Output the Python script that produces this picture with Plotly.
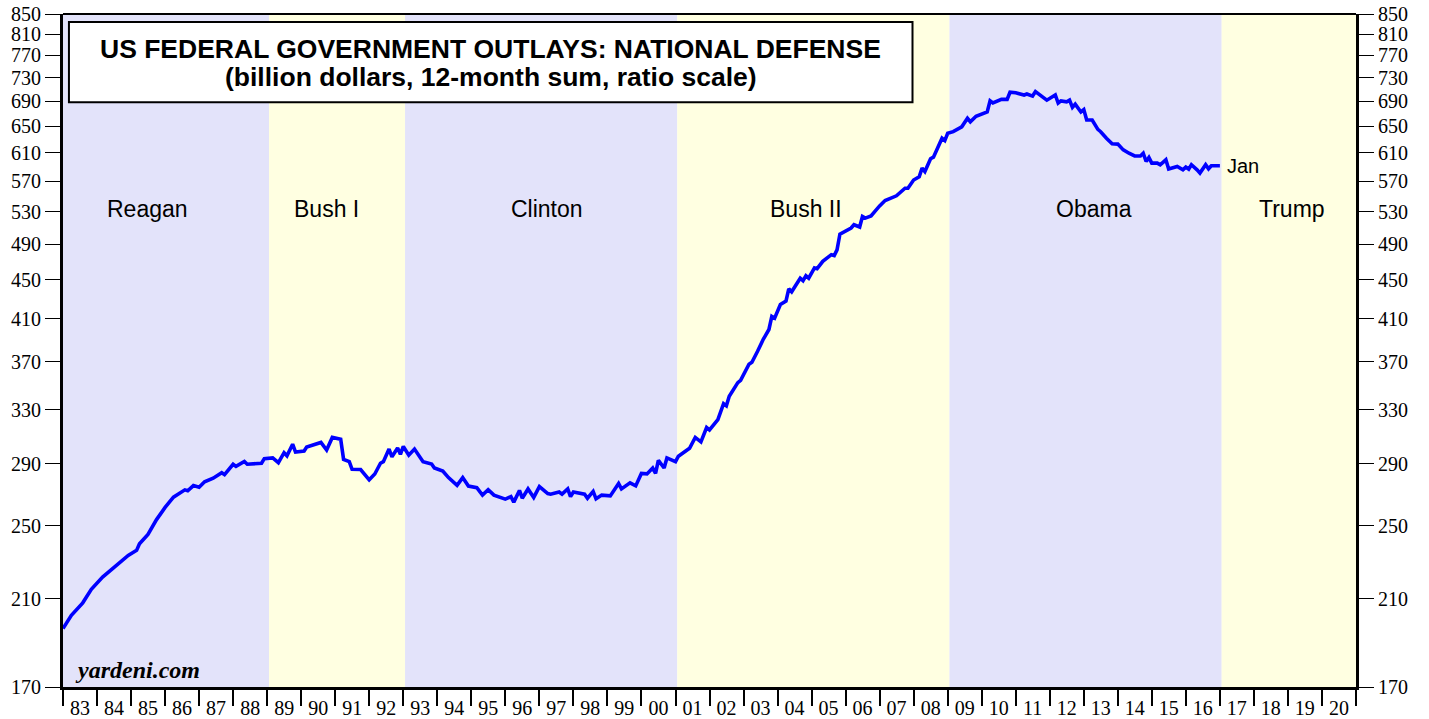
import math
import plotly.graph_objects as go

# ---- data (12-month sum, billion $) ----
dates = [
    "1983-01", "1983-04", "1983-08", "1983-11", "1984-03", "1984-05", "1984-09", "1984-12",
    "1985-03", "1985-04", "1985-07", "1985-10", "1986-01", "1986-04", "1986-08", "1986-09",
    "1986-11", "1987-01", "1987-03", "1987-06", "1987-09", "1987-10", "1988-01", "1988-02",
    "1988-05", "1988-06", "1988-11", "1988-12", "1989-03", "1989-05", "1989-07", "1989-08",
    "1989-10", "1989-11", "1990-02", "1990-03", "1990-08", "1990-10", "1990-12", "1991-03",
    "1991-04", "1991-06", "1991-07", "1991-10", "1992-01", "1992-03", "1992-05", "1992-06",
    "1992-08", "1992-09", "1992-11", "1992-12", "1993-01", "1993-03", "1993-05", "1993-08",
    "1993-11", "1993-12", "1994-03", "1994-05", "1994-08", "1994-10", "1994-12", "1995-03",
    "1995-05", "1995-07", "1995-09", "1996-01", "1996-03", "1996-04", "1996-06", "1996-07",
    "1996-09", "1996-11", "1997-01", "1997-02", "1997-04", "1997-05", "1997-08", "1997-09",
    "1997-11", "1997-12", "1998-01", "1998-05", "1998-06", "1998-08", "1998-09", "1998-11",
    "1999-02", "1999-05", "1999-06", "1999-09", "1999-11", "2000-01", "2000-03", "2000-05",
    "2000-06", "2000-07", "2000-09", "2000-10", "2001-01", "2001-02", "2001-06", "2001-08",
    "2001-10", "2001-12", "2002-01", "2002-04", "2002-06", "2002-07", "2002-08", "2002-11",
    "2002-12", "2003-03", "2003-04", "2003-06", "2003-08", "2003-10", "2003-11", "2003-12",
    "2004-02", "2004-04", "2004-05", "2004-06", "2004-09", "2004-10", "2004-11", "2004-12",
    "2005-02", "2005-03", "2005-05", "2005-08", "2005-09", "2005-10", "2005-11", "2006-03",
    "2006-04", "2006-06", "2006-07", "2006-08", "2006-10", "2007-01", "2007-03", "2007-07",
    "2007-10", "2007-11", "2008-01", "2008-03", "2008-04", "2008-05", "2008-07", "2008-08",
    "2008-09", "2008-11", "2008-12", "2009-01", "2009-03", "2009-05", "2009-06", "2009-08",
    "2009-09", "2009-11", "2010-02", "2010-03", "2010-04", "2010-05", "2010-08", "2010-10",
    "2010-11", "2011-01", "2011-04", "2011-05", "2011-07", "2011-08", "2011-12", "2012-03",
    "2012-04", "2012-05", "2012-07", "2012-08", "2012-09", "2012-10", "2012-12", "2013-01",
    "2013-02", "2013-04", "2013-06", "2013-07", "2013-09", "2013-11", "2014-01", "2014-03",
    "2014-05", "2014-07", "2014-09", "2014-10", "2014-11", "2014-12", "2015-01", "2015-03",
    "2015-04", "2015-06", "2015-07", "2015-09", "2015-10", "2015-12", "2016-01", "2016-02",
    "2016-03", "2016-05", "2016-06", "2016-08", "2016-09", "2016-10", "2017-01",
]
outlays = [
    195.5, 201.8, 207.9, 214.7, 221.1, 223.8, 229.3, 232.9,
    235.7, 239.4, 244.9, 253.7, 261.2, 267.7, 272.4, 271.8,
    275.2, 274.1, 277.7, 280.1, 283.8, 282.5, 289.6, 288.1,
    291.5, 289.6, 290.3, 293.5, 294.0, 290.7, 297.7, 295.5,
    303.8, 298.1, 298.9, 301.8, 305.1, 299.6, 308.8, 307.5,
    293.0, 291.4, 286.1, 286.0, 279.0, 282.9, 290.3, 291.4,
    300.3, 294.8, 301.0, 296.6, 302.2, 296.0, 300.3, 291.4,
    289.8, 287.0, 284.9, 280.5, 275.3, 280.5, 274.9, 273.8,
    269.0, 272.5, 269.0, 266.4, 268.0, 264.5, 272.0, 267.0,
    273.0, 267.5, 274.5, 273.0, 270.0, 269.6, 271.0, 269.6,
    273.0, 268.0, 271.0, 269.6, 267.0, 271.4, 266.6, 269.0,
    268.5, 276.6, 273.0, 277.0, 275.0, 283.3, 283.0, 287.0,
    283.3, 292.3, 287.0, 294.0, 291.4, 295.2, 300.9, 308.8,
    305.5, 316.2, 314.4, 322.3, 334.7, 333.0, 340.8, 352.0,
    354.0, 367.9, 369.6, 379.4, 390.4, 399.7, 412.4, 410.7,
    424.4, 427.8, 440.5, 437.4, 451.9, 449.2, 454.5, 451.9,
    463.1, 462.3, 470.5, 478.0, 477.0, 483.6, 502.2, 509.5,
    513.5, 510.7, 523.7, 521.7, 524.5, 537.2, 544.2, 550.3,
    560.4, 560.4, 571.4, 576.0, 588.0, 583.2, 601.2, 603.6,
    613.1, 631.6, 628.0, 639.0, 641.5, 647.5, 649.0, 662.3,
    656.9, 665.6, 670.0, 672.5, 690.5, 687.0, 693.0, 693.0,
    705.0, 704.0, 700.3, 702.0, 698.5, 706.0, 691.7, 700.3,
    687.0, 690.5, 688.9, 691.7, 679.9, 685.2, 672.5, 676.3,
    659.6, 659.6, 645.0, 641.5, 631.6, 623.2, 622.7, 614.2,
    609.3, 605.3, 605.3, 609.3, 597.3, 603.0, 595.0, 595.0,
    592.7, 599.8, 586.6, 589.4, 590.3, 585.6, 589.4, 586.6,
    592.7, 585.6, 581.0, 592.7, 587.0, 591.3, 591.3,
]

presidents = ["Reagan", "Bush I", "Clinton", "Bush II", "Obama", "Trump"]
term_start = ["1983-01-01", "1989-01-20", "1993-01-20", "2001-01-20", "2009-01-20", "2017-01-20"]
term_end = ["1989-01-20", "1993-01-20", "2001-01-20", "2009-01-20", "2017-01-20", "2021-01-01"]
label_x = ["1985-07-01", "1990-10-01", "1997-03-20", "2004-11-01", "2013-04-20", "2019-02-15"]
band_colors = ["#E3E3FA", "#FFFFE1", "#E3E3FA", "#FFFFE1", "#E3E3FA", "#FFFFE1"]

years = list(range(1983, 2021))
year_labels = ["%02d" % (y % 100) for y in years]
y_ticks = list(range(170, 851, 40))

title1 = "US FEDERAL GOVERNMENT OUTLAYS: NATIONAL DEFENSE"
title2 = "(billion dollars, 12-month sum, ratio scale)"

SERIF = "Liberation Serif, Times New Roman, serif"
SANS = "Liberation Sans, Arial, Helvetica, sans-serif"

fig = go.Figure()

fig.add_trace(go.Scatter(
    x=dates, y=outlays, mode="lines",
    line=dict(color="#0000FF", width=3.6),
    hoverinfo="x+y", showlegend=False,
))
# invisible trace to attach the right-hand axis
fig.add_trace(go.Scatter(
    x=[dates[0]], y=[outlays[0]], yaxis="y2", mode="markers",
    marker=dict(opacity=0), hoverinfo="skip", showlegend=False,
))

shapes = []
for s, e, c in zip(term_start, term_end, band_colors):
    shapes.append(dict(type="rect", xref="x", yref="paper", x0=s, x1=e, y0=0, y1=1,
                       fillcolor=c, line=dict(width=0), layer="below"))
# top frame line
shapes.append(dict(type="line", xref="paper", yref="paper", x0=0, x1=1, y0=1, y1=1,
                   line=dict(color="black", width=2), layer="above"))
# title box
shapes.append(dict(type="rect", xref="paper", yref="paper", x0=0.0046, x1=0.657,
                   y0=0.869, y1=0.988, fillcolor="white",
                   line=dict(color="black", width=2), layer="above"))
fig.update_layout(shapes=shapes)

ann = []
for name, lx in zip(presidents, label_x):
    ann.append(dict(x=lx, y=0.710, xref="x", yref="paper", text=name, showarrow=False,
                    font=dict(family=SANS, size=23, color="black"),
                    xanchor="center", yanchor="middle"))
ann.append(dict(x=0.331, y=0.948, xref="paper", yref="paper", text="<b>" + title1 + "</b>",
                showarrow=False, font=dict(family=SANS, size=26.5, color="black"),
                xanchor="center", yanchor="middle"))
ann.append(dict(x=0.331, y=0.907, xref="paper", yref="paper", text="<b>" + title2 + "</b>",
                showarrow=False, font=dict(family=SANS, size=26.5, color="black"),
                xanchor="center", yanchor="middle"))
ann.append(dict(x=dates[-1], y=math.log10(outlays[-1]), xref="x", yref="y", text="Jan",
                showarrow=False, font=dict(family=SANS, size=20, color="black"),
                xanchor="left", yanchor="middle", xshift=5))
ann.append(dict(x=0.008, y=0.025, xref="paper", yref="paper", text="<b><i>yardeni.com</i></b>",
                showarrow=False, font=dict(family=SERIF, size=24, color="black"),
                xanchor="left", yanchor="middle"))
# chart caption that is almost entirely cut off by the top edge of the page
ann.append(dict(x=0.0, y=1.0, xref="paper", yref="paper", text="<b>Figure</b>",
                showarrow=False, font=dict(family=SANS, size=20, color="black"),
                xanchor="left", yanchor="bottom", xshift=19, yshift=12))
fig.update_layout(annotations=ann)

yr = [math.log10(170), math.log10(850)]
fig.update_layout(
    width=1429, height=719, autosize=False,
    margin=dict(l=63, r=73, t=14, b=32, pad=0, autoexpand=False),
    paper_bgcolor="white", plot_bgcolor="white",
    xaxis=dict(
        type="date", range=["1983-01-01", "2021-01-01"], automargin=False,
        tickmode="array", tickvals=["%d-07-02" % y for y in years], ticktext=year_labels,
        ticks="", showgrid=False, zeroline=False,
        showline=True, linecolor="black", linewidth=3,
        tickfont=dict(family=SERIF, size=20, color="black"),
        ticklabelstandoff=1, ticklabeloverflow="allow",
        minor=dict(tickmode="array", tickvals=["%d-01-01" % y for y in years] + ["2021-01-01"],
                   ticks="outside", ticklen=16, tickwidth=2, tickcolor="black", showgrid=False),
    ),
    yaxis=dict(
        type="log", range=yr, tickmode="array", tickvals=y_ticks, automargin=False,
        ticktext=[str(v) for v in y_ticks], ticklabeloverflow="allow",
        ticks="outside", ticklen=15, tickwidth=1.3, tickcolor="black",
        showgrid=False, zeroline=False,
        showline=True, linecolor="black", linewidth=3,
        tickfont=dict(family=SERIF, size=20, color="black"),
    ),
    yaxis2=dict(
        type="log", range=yr, overlaying="y", side="right", tickmode="array", automargin=False,
        tickvals=y_ticks, ticktext=[str(v) for v in y_ticks], ticklabeloverflow="allow",
        ticks="outside", ticklen=15, tickwidth=1.3, tickcolor="black",
        showgrid=False, zeroline=False,
        showline=True, linecolor="black", linewidth=3,
        tickfont=dict(family=SERIF, size=20, color="black"),
    ),
)

# remove the browser's default 8px body margin so the figure sits at the page origin
fig.write_html("out.html", config={"displayModeBar": False},
               post_script="document.body.style.margin='0px';")
